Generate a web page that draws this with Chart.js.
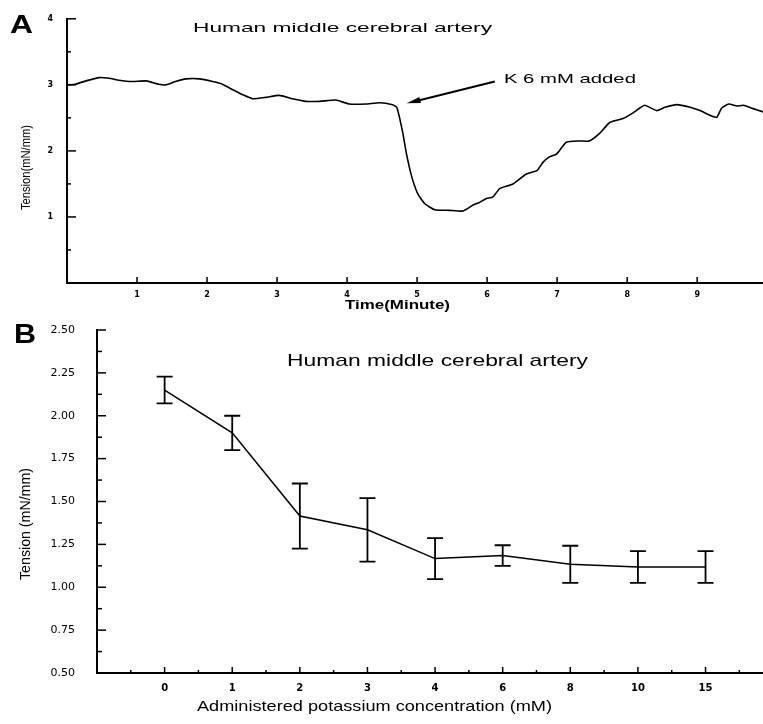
<!DOCTYPE html>
<html>
<head>
<meta charset="utf-8">
<script src="https://cdn.jsdelivr.net/npm/chart.js@4.4.0/dist/chart.umd.min.js"></script>
<style>
  html, body { margin: 0; padding: 0; background: #fff; }
  #wrap { position: relative; width: 763px; height: 724px; overflow: hidden; }
  canvas { position: absolute; left: 0; }
  #cA { top: 0; }
  #cB { top: 300px; }
</style>
</head>
<body>
<div id="wrap">
  <canvas id="cA" width="763" height="320"></canvas>
  <canvas id="cB" width="763" height="424"></canvas>
</div>
<script>
// Panel A - tension trace, K 6 mM added near 4.7 min
const traceTime = [0.00, 0.12, 0.27, 0.46, 0.60, 0.74, 0.93, 1.13, 1.31, 1.41, 1.55, 1.70, 1.89, 2.08, 2.22,
  2.36, 2.51, 2.65, 2.84, 3.03, 3.22, 3.41, 3.61, 3.84, 4.03, 4.27, 4.46, 4.65, 4.71, 4.75, 4.80, 4.84,
  4.89, 4.94, 5.01, 5.11, 5.25, 5.46, 5.66, 5.80, 5.89, 5.99, 6.08, 6.18, 6.37, 6.56, 6.71, 6.80, 6.89,
  6.99, 7.13, 7.32, 7.46, 7.61, 7.75, 7.94, 8.09, 8.25, 8.42, 8.54, 8.71, 8.90, 9.04, 9.18, 9.28, 9.35,
  9.45, 9.57, 9.66, 9.80, 9.94];
const traceTension = [3.00, 3.01, 3.06, 3.11, 3.10, 3.07, 3.05, 3.06, 3.01, 3.00, 3.05, 3.09, 3.09, 3.05, 3.01,
  2.93, 2.85, 2.79, 2.81, 2.84, 2.79, 2.75, 2.75, 2.77, 2.71, 2.71, 2.73, 2.70, 2.66, 2.50, 2.25, 2.00,
  1.75, 1.55, 1.35, 1.20, 1.11, 1.10, 1.09, 1.18, 1.22, 1.28, 1.30, 1.43, 1.50, 1.65, 1.70, 1.83, 1.91,
  1.95, 2.13, 2.15, 2.15, 2.27, 2.43, 2.49, 2.58, 2.69, 2.61, 2.66, 2.70, 2.66, 2.61, 2.54, 2.51, 2.65,
  2.71, 2.68, 2.69, 2.64, 2.59];

// Panel B - mean tension +/- error per potassium concentration
const concLabels = ['0', '1', '2', '3', '4', '6', '8', '10', '15'];
const meanTension = [2.15, 1.90, 1.415, 1.335, 1.167, 1.185, 1.134, 1.118, 1.118];
const errTension = [0.078, 0.10, 0.19, 0.185, 0.12, 0.06, 0.108, 0.093, 0.093];

const SANS = "'Liberation Sans', Arial, sans-serif";

// text squeezed / stretched to the width it has in the scan
function txt(ctx, s, x, y, font, w, rot) {
  ctx.save();
  ctx.font = font;
  ctx.fillStyle = '#000';
  ctx.textAlign = 'left';
  ctx.textBaseline = 'alphabetic';
  ctx.translate(x, y);
  if (rot) ctx.rotate(-Math.PI / 2);
  const m = ctx.measureText(s).width;
  if (w) ctx.scale(w / m, 1);
  ctx.fillText(s, 0, 0);
  ctx.restore();
}

function hTick(ctx, x, y, len) {
  ctx.beginPath(); ctx.moveTo(x, y); ctx.lineTo(x + len, y); ctx.stroke();
}
function vTick(ctx, x, y, len) {
  ctx.beginPath(); ctx.moveTo(x, y); ctx.lineTo(x, y - len); ctx.stroke();
}

const axisBits = {
  grid: { drawOnChartArea: false, drawTicks: false },
  border: { color: '#000', width: 2 }
};

const panelA = {
  id: 'panelA',
  afterDraw(chart) {
    const { ctx, scales: { x, y } } = chart;
    ctx.save();
    ctx.strokeStyle = '#000';
    ctx.lineWidth = 1.5;
    // inward ticks
    for (let v = 0.5; v <= 4; v += 0.5) hTick(ctx, x.left, y.getPixelForValue(v), v % 1 === 0 ? 9 : 4);
    for (let v = 1; v <= 9; v++) vTick(ctx, x.getPixelForValue(v), y.bottom, 6);

    // arrow "K 6 mM added"
    const tx = x.getPixelForValue(6.11), ty = y.getPixelForValue(3.05);
    const hx = x.getPixelForValue(4.85), hy = y.getPixelForValue(2.72);
    const ang = Math.atan2(hy - ty, hx - tx);
    ctx.lineWidth = 2;
    ctx.beginPath(); ctx.moveTo(tx, ty); ctx.lineTo(hx - 8 * Math.cos(ang), hy - 8 * Math.sin(ang)); ctx.stroke();
    ctx.fillStyle = '#000';
    ctx.beginPath();
    ctx.moveTo(hx, hy);
    ctx.lineTo(hx - 14 * Math.cos(ang) + 3 * Math.sin(ang), hy - 14 * Math.sin(ang) - 3 * Math.cos(ang));
    ctx.lineTo(hx - 14 * Math.cos(ang) - 3 * Math.sin(ang), hy - 14 * Math.sin(ang) + 3 * Math.cos(ang));
    ctx.closePath(); ctx.fill();
    ctx.restore();

    txt(ctx, 'K 6 mM added', x.getPixelForValue(6.24), 83, '13px ' + SANS, 132);
    txt(ctx, 'A', 10, 33, 'bold 26px ' + SANS, 23);
    txt(ctx, 'Human middle cerebral artery', 193, 32, '13px ' + SANS, 299);
    txt(ctx, 'Tension(mN/mm)', 30, 210, '13px ' + SANS, 85, true);
    txt(ctx, 'Time(Minute)', 345, 309, 'bold 12px ' + SANS, 105);
  }
};

const panelB = {
  id: 'panelB',
  afterDatasetsDraw(chart) {
    const { ctx, scales: { x, y } } = chart;
    ctx.save();
    ctx.strokeStyle = '#000';
    ctx.lineWidth = 1.8;
    meanTension.forEach((m, i) => {
      const px = x.getPixelForValue(i);
      const top = y.getPixelForValue(m + errTension[i]);
      const bot = y.getPixelForValue(m - errTension[i]);
      ctx.beginPath();
      ctx.moveTo(px, top); ctx.lineTo(px, bot);
      ctx.moveTo(px - 8, top); ctx.lineTo(px + 8, top);
      ctx.moveTo(px - 8, bot); ctx.lineTo(px + 8, bot);
      ctx.stroke();
    });
    ctx.restore();
  },
  afterDraw(chart) {
    const { ctx, scales: { x, y } } = chart;
    ctx.save();
    ctx.strokeStyle = '#000';
    ctx.lineWidth = 1.5;
    for (let k = 1; k <= 16; k++) hTick(ctx, x.left, y.getPixelForValue(0.5 + k * 0.125), k % 2 === 0 ? 9 : 5);
    for (let v = -0.5; v <= 8.5; v += 0.5) vTick(ctx, x.getPixelForValue(v), y.bottom, v % 1 === 0 ? 6 : 3);
    ctx.restore();

    txt(ctx, 'B', 14, 43, 'bold 28px ' + SANS, 22);
    txt(ctx, 'Human middle cerebral artery', 287, 66, '17px ' + SANS, 301);
    txt(ctx, 'Tension (mN/mm)', 30, 280, '15px ' + SANS, 112, true);
    txt(ctx, 'Administered potassium concentration (mM)', 197, 411, '15px ' + SANS, 355);
  }
};

new Chart(document.getElementById('cA'), {
  type: 'line',
  data: {
    datasets: [{
      data: traceTime.map((t, i) => ({ x: t, y: traceTension[i] })),
      borderColor: '#000',
      borderWidth: 1.6,
      pointRadius: 0,
      tension: 0.15
    }]
  },
  options: {
    responsive: false,
    animation: false,
    layout: { padding: { top: 17, left: 0, right: 0, bottom: 0 } },
    plugins: { legend: { display: false }, tooltip: { enabled: false } },
    scales: {
      x: {
        type: 'linear', min: 0, max: 9.94,
        ...axisBits,
        ticks: {
          stepSize: 1, includeBounds: false, autoSkip: false, maxRotation: 0, padding: 7,
          color: '#000', font: { family: 'DejaVu Sans', size: 8, weight: 'bold' },
          callback: v => (v === 0 ? '' : String(v))
        },
        afterFit: s => { s.height = 37; }
      },
      y: {
        min: 0, max: 4,
        ...axisBits,
        ticks: {
          stepSize: 0.5, autoSkip: false, padding: 14,
          color: '#000', font: { family: 'DejaVu Sans', size: 8, weight: 'bold' },
          callback: v => (v % 1 === 0 && v > 0 ? String(v) : '')
        },
        afterFit: s => { s.width = 67; }
      }
    }
  },
  plugins: [panelA]
});

new Chart(document.getElementById('cB'), {
  type: 'line',
  data: {
    datasets: [{
      data: meanTension.map((m, i) => ({ x: i, y: m })),
      borderColor: '#000',
      borderWidth: 1.5,
      pointRadius: 0,
      tension: 0
    }]
  },
  options: {
    responsive: false,
    animation: false,
    layout: { padding: { top: 30, left: 0, right: 0, bottom: 0 } },
    plugins: { legend: { display: false }, tooltip: { enabled: false } },
    scales: {
      x: {
        type: 'linear', min: -1, max: 8.85,
        ...axisBits,
        ticks: {
          stepSize: 1, includeBounds: false, autoSkip: false, maxRotation: 0, padding: 9,
          color: '#000', font: { family: 'DejaVu Sans', size: 10, weight: 'bold' },
          callback: v => (concLabels[v] !== undefined ? concLabels[v] : '')
        },
        afterFit: s => { s.height = 51; }
      },
      y: {
        min: 0.5, max: 2.5,
        ...axisBits,
        ticks: {
          stepSize: 0.25, autoSkip: false, padding: 22,
          color: '#000', font: { family: 'DejaVu Sans', size: 11 },
          callback: v => v.toFixed(2)
        },
        afterFit: s => { s.width = 97; }
      }
    }
  },
  plugins: [panelB]
});
</script>
</body>
</html>
